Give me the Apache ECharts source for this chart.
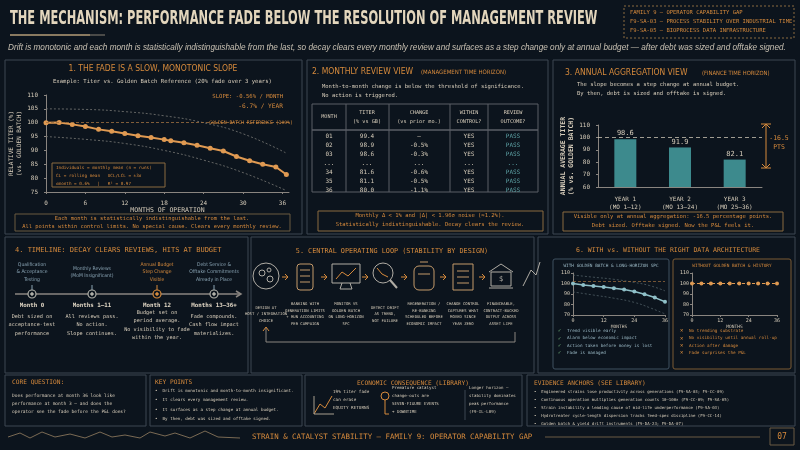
<!DOCTYPE html>
<html>
<head>
<meta charset="utf-8">
<script src="https://cdn.jsdelivr.net/npm/echarts@6/dist/echarts.min.js"></script>
<style>html,body{margin:0;padding:0;background:#0c141d}#main{width:800px;height:450px}</style>
</head>
<body>
<div id="main"></div>
<script>
// ---- data ----
const fadeMonths = [0, 2, 4, 6, 8, 10, 12, 14, 16, 18, 19, 21, 23, 25, 27, 29, 31, 33, 35, 36.6];
const fadeTiter = [100, 100.1, 99.4, 98.6, 97.6, 96.9, 96.1, 95.3, 94.7, 93.9, 93.5, 92.8, 91.9, 90.8, 89.8, 87.8, 86.3, 85.0, 84.0, 81.3];
const uclMonths = [0, 6, 12, 18, 24, 30, 36.6];
const uclValues = [105, 104.8, 104, 102.5, 100, 96, 89];
const lclValues = [95, 94, 92.5, 90, 86.5, 82, 75.5];
const yearLabels = ['YEAR 1\n(MO 1–12)', 'YEAR 2\n(MO 13–24)', 'YEAR 3\n(MO 25–36)'];
const yearAvg = [98.6, 91.9, 82.1];
const tableRows = [
  ['01', '99.4', '–', 'YES', 'PASS'],
  ['02', '98.9', '-0.5%', 'YES', 'PASS'],
  ['03', '98.6', '-0.3%', 'YES', 'PASS'],
  ['...', '...', '...', '...', '...'],
  ['34', '81.6', '-0.6%', 'YES', 'PASS'],
  ['35', '81.1', '-0.5%', 'YES', 'PASS'],
  ['36', '80.0', '-1.1%', 'YES', 'PASS']
];
const withMonths = [0, 4, 8, 12, 16, 20, 24, 28, 32, 36];
const withValues = [100, 98.6, 97.6, 96.6, 95.5, 94.3, 92.4, 89.8, 86.6, 82.6];
const withUcl = [108, 106, 104, 101, 98, 93];
const withLcl = [92, 89, 86, 82, 77, 71];
const withBandMonths = [0, 8, 16, 24, 30, 36];
const withoutMonths = [0, 4, 8, 12, 16, 20, 24, 28, 32, 36];
const withoutValues = [100, 100, 100, 100, 100, 100, 100, 100, 100, 100];

const OR = '#d68a3c', TX = '#d6ccba', DIM = '#a89f90', TEAL = '#5ea3a6', BR = '#3d4652', MONO = 'DejaVu Sans Mono', COND = 'DejaVu Sans Condensed';
const g = [];
function t(x, y, s, o) {
  o = o || {};
  const el = {type: 'text', x: x, y: y, z: 10, style: {text: s, fill: o.c || TX, font: (o.w || 'normal') + ' ' + (o.s || 6) + 'px ' + (o.f || MONO), align: o.a || 'left', verticalAlign: 'middle', lineHeight: o.lh || (o.s || 6) + 3}};
  if (o.sx) { el.scaleX = o.sx; }
  g.push(el);
}
function r(x, y, w, h, o) {
  o = o || {};
  g.push({type: 'rect', z: 1, shape: {x: x, y: y, width: w, height: h, r: o.r || 0}, style: {fill: o.fill || 'none', stroke: o.c || BR, lineWidth: o.lw || 1, lineDash: o.d || null}});
}
function l(pts, o) {
  o = o || {};
  g.push({type: 'polyline', z: 5, shape: {points: pts}, style: {stroke: o.c || DIM, lineWidth: o.lw || 1, lineDash: o.d || null, fill: 'none'}});
}
function circ(x, y, rr, o) {
  o = o || {};
  g.push({type: 'circle', z: 6, shape: {cx: x, cy: y, r: rr}, style: {fill: o.fill || 'none', stroke: o.c || DIM, lineWidth: o.lw || 1}});
}

// header
t(10, 19, 'THE MECHANISM: PERFORMANCE FADE BELOW THE RESOLUTION OF MANAGEMENT REVIEW', {s: 20, w: 'bold', f: COND, c: '#e3d6bd', sx: 0.635});
l([[10, 35], [90, 35]], {c: '#8a7a60', lw: 2});
l([[90, 35], [105, 35]], {c: '#4a4a48', lw: 2});
r(624, 6, 170, 32, {c: '#8a6a40', d: [2, 2]});
t(630, 13, 'FAMILY 9 — OPERATOR CAPABILITY GAP', {s: 5.5, c: OR});
t(630, 22, 'F9-SA-03 — PROCESS STABILITY OVER INDUSTRIAL TIME', {s: 5.5, c: OR});
t(630, 31, 'F9-SA-05 — BIOPROCESS DATA INFRASTRUCTURE', {s: 5.5, c: OR});
t(8, 48, 'Drift is monotonic and each month is statistically indistinguishable from the last, so decay clears every monthly review and surfaces as a step change only at annual budget — after debt was sized and offtake signed.', {s: 8.5, f: 'Liberation Sans', w: 'italic', c: '#c8c0b2', sx: 0.965});

// panel frames
[[5, 60, 297, 174], [307, 60, 241, 174], [553, 60, 242, 174], [5, 237, 243, 136], [251, 237, 283, 136], [538, 237, 257, 136], [5, 375, 141, 51], [150, 375, 152, 51], [305, 375, 217, 51], [527, 375, 268, 51]].forEach(p => r(p[0], p[1], p[2], p[3]));

// panel 1 text
t(153, 69, '1. THE FADE IS A SLOW, MONOTONIC SLOPE', {s: 8.5, f: COND, c: OR, a: 'center'});
t(53, 82, 'Example: Titer vs. Golden Batch Reference (20% fade over 3 years)', {s: 5.6});
t(283, 97, 'SLOPE: -0.56% / MONTH', {s: 5.6, c: OR, a: 'right'});
t(283, 106, '-6.7% / YEAR', {s: 6.2, c: OR, a: 'right'});
t(293, 123, 'GOLDEN BATCH REFERENCE (100%)', {s: 4.8, c: OR, a: 'right'});
r(52, 163, 113, 24, {c: '#8a6a40', fill: '#0c141d'});
t(56, 168, 'Individuals = monthly mean (n = runs)', {s: 4.3, c: OR});
t(56, 176, 'CL = rolling mean   UCL/LCL = ±3σ', {s: 4.3, c: OR});
t(56, 184, 'σmonth = 0.6%   |   R² = 0.97', {s: 4.3, c: OR});
r(15, 214, 275, 17, {c: '#6a5a40'});
t(152, 218.5, 'Each month is statistically indistinguishable from the last.', {s: 5.4, c: OR, a: 'center'});
t(152, 226.5, 'All points within control limits. No special cause. Clears every monthly review.', {s: 5.4, c: OR, a: 'center'});

// panel 2 table
t(312, 72, '2. MONTHLY REVIEW VIEW', {s: 8.5, f: COND, c: OR});
t(421, 72, '(MANAGEMENT TIME HORIZON)', {s: 6, f: COND, c: OR});
t(322, 87, 'Month-to-month change is below the threshold of significance.', {s: 5.5});
t(322, 96, 'No action is triggered.', {s: 5.5});
r(312, 104, 226, 26, {c: '#5a5f66'});
r(312, 130, 226, 62, {c: '#5a5f66'});
[346, 389, 450, 488].forEach(x => l([[x, 104], [x, 192]], {c: '#5a5f66'}));
['MONTH', 'TITER\n(% vs GB)', 'CHANGE\n(vs prior mo.)', 'WITHIN\nCONTROL?', 'REVIEW\nOUTCOME?'].forEach((h, i) => {
  const cx = [329, 367, 419, 469, 513][i];
  t(cx, 117, h, {s: 5.2, a: 'center', lh: 9});
});
tableRows.forEach((row, j) => {
  const y = 136 + j * 9.1;
  [329, 367, 419, 469, 513].forEach((cx, i) => t(cx, y, row[i], {s: 6, a: 'center', c: i === 4 ? TEAL : TX}));
});
r(318, 211, 225, 20, {c: '#8a6a40'});
t(430, 216, 'Monthly Δ < 1% and |Δ| < 1.96σ noise (≈1.2%).', {s: 5.5, c: OR, a: 'center'});
t(430, 225, 'Statistically indistinguishable. Decay clears the review.', {s: 5.5, c: OR, a: 'center'});

// panel 3 text
t(565, 73, '3. ANNUAL AGGREGATION VIEW', {s: 8.5, f: COND, c: OR});
t(702, 73, '(FINANCE TIME HORIZON)', {s: 5.8, f: COND, c: OR});
t(577, 85, 'The slope becomes a step change at annual budget.', {s: 5.5});
t(577, 94, 'By then, debt is sized and offtake is signed.', {s: 5.5});
l([[766, 124], [766, 168]], {c: OR});
l([[762, 128], [766, 124], [770, 128]], {c: OR});
l([[762, 164], [766, 168], [770, 164]], {c: OR});
l([[761, 124], [771, 124]], {c: OR});
l([[761, 168], [771, 168]], {c: OR});
t(779, 143, '-16.5\nPTS', {s: 6.5, c: OR, a: 'center', lh: 9});
r(563, 212, 220, 19, {c: '#8a6a40'});
t(673, 217, 'Visible only at annual aggregation: -16.5 percentage points.', {s: 5.5, c: OR, a: 'center'});
t(673, 226, 'Debt sized. Offtake signed. Now the P&L feels it.', {s: 5.5, c: OR, a: 'center'});

// panel 4 timeline
t(15, 250, '4. TIMELINE: DECAY CLEARS REVIEWS, HITS AT BUDGET', {s: 7, f: MONO, c: OR});
l([[15, 294], [240, 294]], {c: '#8a8580', lw: 1.5});
l([[236, 291], [241, 294], [236, 297]], {c: '#8a8580', lw: 1.5});
const tl = [
  [32, 'Qualification\n& Acceptance\nTesting', 'Month 0', 'Debt sized on\nacceptance-test\nperformance'],
  [92, 'Monthly Reviews\n(MoM Insignificant)', 'Months 1–11', 'All reviews pass.\nNo action.\nSlope continues.'],
  [157, 'Annual Budget\nStep Change\nVisible', 'Month 12', 'Budget set on\nperiod average.\nNo visibility to fade\nwithin the year.'],
  [214, 'Debt Service &\nOfftake Commitments\nAlready in Place', 'Months 13–36+', 'Fade compounds.\nCash flow impact\nmaterializes.']
];
tl.forEach((e, i) => {
  const c = i === 2 ? OR : '#8aa4b4';
  t(e[0], 272, e[1], {s: 5, a: 'center', c: c, f: COND, lh: 7.5});
  l([[e[0], 285], [e[0], 290]], {c: c});
  circ(e[0], 294, 4, {c: i === 2 ? OR : '#b0b0a8', fill: '#0c141d', lw: 1.2});
  circ(e[0], 294, 1.3, {c: i === 2 ? OR : '#b0b0a8', fill: i === 2 ? OR : '#b0b0a8'});
  t(e[0], 305, e[2], {s: 5.8, a: 'center', c: '#e0d6c4', w: 'bold'});
  t(e[0], 325, e[3], {s: 5.2, a: 'center', lh: 8.5});
});

// panel 5 loop
t(392, 251, '5. CENTRAL OPERATING LOOP (STABILITY BY DESIGN)', {s: 6.8, c: OR, a: 'center'});
const loopX = [266, 305, 346, 385, 424, 463, 501];
const loopLbl = ['DESIGN AT\nHOST / INTEGRATION\nCHOICE', 'BANKING WITH\nGENERATION LIMITS\n+ RUN ACCOUNTING\nPER CAMPAIGN', 'MONITOR VS\nGOLDEN BATCH\nON LONG-HORIZON\nSPC', 'DETECT DRIFT\nAS TREND,\nNOT FAILURE', 'REGENERATION /\nRE-BANKING\nSCHEDULED BEFORE\nECONOMIC IMPACT', 'CHANGE CONTROL\nCAPTURES WHAT\nMOVED SINCE\nYEAR ZERO', 'FINANCEABLE,\nCONTRACT-BACKED\nOUTPUT ACROSS\nASSET LIFE'];
loopX.forEach((x, i) => {
  const c = (i === 1 || i === 4 || i === 5) ? '#c49a6a' : '#b0aca4';
  if (i === 0) { circ(x, 276, 13, {c: c}); circ(x - 4, 273, 3, {c: c}); circ(x + 4, 279, 3, {c: c}); circ(x + 3, 270, 2, {c: c}); }
  if (i === 1) { r(x - 8, 264, 16, 26, {c: c, r: 3}); [270, 276, 282].forEach(y => l([[x - 5, y], [x + 5, y]], {c: c})); }
  if (i === 2) { r(x - 14, 264, 28, 19, {c: c}); l([[x - 10, 279], [x - 4, 272], [x + 2, 276], [x + 10, 268]], {c: OR}); l([[x - 4, 283], [x - 6, 289], [x + 6, 289], [x + 4, 283]], {c: c}); }
  if (i === 3) { circ(x - 2, 273, 10, {c: c}); l([[x + 5, 280], [x + 12, 288]], {c: c, lw: 2}); l([[x - 8, 268], [x - 3, 274], [x + 3, 277]], {c: OR}); }
  if (i === 4) { r(x - 10, 266, 20, 24, {c: c, r: 5}); l([[x - 4, 262], [x + 4, 262]], {c: c}); l([[x - 6, 274], [x + 6, 274]], {c: c}); }
  if (i === 5) { r(x - 10, 264, 20, 26, {c: c}); [271, 277, 283].forEach(y => l([[x - 6, y], [x + 6, y]], {c: c})); }
  if (i === 6) { r(x - 10, 272, 20, 14, {c: c}); l([[x - 12, 272], [x, 264], [x + 12, 272]], {c: c}); l([[x - 12, 288], [x + 12, 288]], {c: c}); t(x, 279, '$', {s: 7, a: 'center', c: c}); }
  if (i < 6) { l([[x + 16, 277], [x + 22, 277]], {c: OR}); l([[x + 19, 274], [x + 22, 277], [x + 19, 280]], {c: OR}); }
  t(x, 314, loopLbl[i], {s: 3.9, a: 'center', lh: 6.5, c: TX});
});
l([[523, 286], [531, 270], [536, 275], [540, 262]], {c: '#b0aca4'});
l([[515, 332], [515, 342], [266, 342], [266, 328]], {c: '#8a8580'});
l([[263, 331], [266, 327], [269, 331]], {c: OR});

// panel 6
t(668, 250, '6. WITH vs. WITHOUT THE RIGHT DATA ARCHITECTURE', {s: 6.5, c: OR, a: 'center'});
r(553, 259, 116, 110, {c: '#3f5060', r: 2});
r(673, 259, 118, 110, {c: '#7a5a34', r: 2});
t(611, 266, 'WITH GOLDEN BATCH & LONG-HORIZON SPC', {s: 4.4, c: '#9ab8c4', a: 'center'});
t(732, 266, 'WITHOUT GOLDEN BATCH & HISTORY', {s: 4.4, c: OR, a: 'center'});
['Trend visible early', 'Alarm below economic impact', 'Action taken before money is lost', 'Fade is managed'].forEach((s, i) => {
  t(558, 331 + i * 7.2, '✓', {s: 5.5, c: '#6fae7a'}); t(567, 331 + i * 7.2, s, {s: 4.3, c: '#9ab8c4'});
});
['No trending substrate', 'No visibility until annual roll-up', 'Action after damage', 'Fade surprises the P&L'].forEach((s, i) => {
  t(680, 331 + i * 7.2, '✕', {s: 5.5, c: OR}); t(689, 331 + i * 7.2, s, {s: 4.3, c: OR});
});

// bottom row
t(12, 382, 'CORE QUESTION:', {s: 6.2, c: OR});
t(12, 404, 'Does performance at month 36 look like\nperformance at month 3 — and does the\noperator see the fade before the P&L does?', {s: 4.5, lh: 8});
t(155, 382, 'KEY POINTS', {s: 6.2, c: OR});
t(155, 405, '•  Drift is monotonic and month-to-month insignificant.\n•  It clears every management review.\n•  It surfaces as a step change at annual budget.\n•  By then, debt was sized and offtake signed.', {s: 4.2, lh: 9.5});
t(413, 383, 'ECONOMIC CONSEQUENCE (LIBRARY)', {s: 6.2, c: OR, a: 'center'});
l([[314, 414], [320, 404], [325, 408], [332, 396]], {c: OR});
l([[314, 396], [314, 414], [334, 414]], {c: DIM});
t(333, 400, '19% titer fade\ncan erase\nEQUITY RETURNS', {s: 4.3, lh: 8});
circ(385, 396, 4, {c: OR});
l([[385, 400], [385, 414], [389, 414]], {c: OR});
t(392, 400, 'Premature catalyst\nchange-outs are\nSEVEN-FIGURE EVENTS\n+ DOWNTIME', {s: 4.1, lh: 8});
l([[465, 390], [465, 420]], {c: BR});
t(469, 400, 'Longer horizon —\nstability dominates\npeak performance\n(F9-IL-L09)', {s: 4.1, lh: 8});
t(534, 383, 'EVIDENCE ANCHORS (SEE LIBRARY)', {s: 6.2, c: OR});
t(534, 408, '•  Engineered strains lose productivity across generations (F9-SA-03; F9-CC-09)\n•  Continuous operation multiplies generation counts 10–100× (F9-CC-09; F9-SA-05)\n•  Strain instability a leading cause of mid-life underperformance (F9-SA-03)\n•  Hydrotreater cycle-length dispersion tracks feed-spec discipline (F9-CC-14)\n•  Golden batch & yield drift instruments (F9-DA-23; F9-DA-07)', {s: 4, lh: 8});

// footer
l([[8, 437], [20, 433], [30, 438], [42, 432], [55, 437], [70, 434], [85, 438], [100, 432], [112, 437], [125, 435], [140, 438], [150, 432], [165, 436], [175, 433], [190, 438], [205, 431], [218, 437], [240, 438]], {c: '#7a6a54'});
t(252, 437, 'STRAIN & CATALYST STABILITY — FAMILY 9: OPERATOR CAPABILITY GAP', {s: 7.4, c: OR});
l([[545, 437], [760, 437]], {c: '#6a5a44'});
r(770, 428, 24, 17, {c: '#6a5a44'});
t(782, 437, '07', {s: 8, c: OR, a: 'center'});

const axisTxt = {color: TX, fontFamily: MONO, fontSize: 6};
const axLine = {lineStyle: {color: '#8a8580'}};
function valAxis(min, max, iv, gi, name, extra) {
  return Object.assign({type: 'value', gridIndex: gi, min: min, max: max, interval: iv, axisLine: Object.assign({show: true}, axLine), axisTick: {show: true, length: 2, lineStyle: {color: '#8a8580'}}, splitLine: {show: false}, axisLabel: Object.assign({}, axisTxt), name: name, nameLocation: 'middle', nameTextStyle: {color: TX, fontFamily: MONO, fontSize: 6.5}}, extra || {});
}

const option = {
  backgroundColor: '#0c141d',
  animation: false,
  graphic: g,
  grid: [
    {left: 46, right: 511, top: 95, bottom: 258},
    {left: 598, right: 38, top: 125, bottom: 263},
    {left: 573, right: 135, top: 273, bottom: 135},
    {left: 692, right: 23, top: 273, bottom: 135}
  ],
  xAxis: [
    valAxis(0, 37, 6, 0, 'MONTHS OF OPERATION', {nameGap: 10, axisLabel: Object.assign({}, axisTxt, {customValues: [0, 6, 12, 18, 24, 30, 36]}), axisTick: {show: true, length: 2, customValues: [0, 6, 12, 18, 24, 30, 36]}}),
    {type: 'category', gridIndex: 1, data: yearLabels, axisLine: axLine, axisTick: {show: false}, axisLabel: Object.assign({}, axisTxt, {fontSize: 6, lineHeight: 8})},
    valAxis(0, 36, 12, 2, 'MONTHS', {nameGap: 8, nameTextStyle: {color: TX, fontFamily: MONO, fontSize: 4.5}, axisLabel: Object.assign({}, axisTxt, {fontSize: 5, margin: 3})}),
    valAxis(0, 36, 12, 3, 'MONTHS', {nameGap: 8, nameTextStyle: {color: TX, fontFamily: MONO, fontSize: 4.5}, axisLabel: Object.assign({}, axisTxt, {fontSize: 5, margin: 3})})
  ],
  yAxis: [
    valAxis(75, 110, 5, 0, 'RELATIVE TITER (%)\n(vs. GOLDEN BATCH)', {nameGap: 18, nameTextStyle: {color: TX, fontFamily: MONO, fontSize: 6, lineHeight: 8}}),
    valAxis(60, 110, 10, 1, 'ANNUAL AVERAGE TITER\n(% vs. GOLDEN BATCH)', {nameGap: 18, nameTextStyle: {color: TX, fontFamily: MONO, fontSize: 6.5, fontWeight: 'bold', lineHeight: 8}}),
    valAxis(70, 110, 10, 2, '', {axisLabel: Object.assign({}, axisTxt, {fontSize: 5, margin: 3})}),
    valAxis(70, 110, 10, 3, '', {axisLabel: Object.assign({}, axisTxt, {fontSize: 5, margin: 3})})
  ],
  series: [
    {type: 'line', xAxisIndex: 0, yAxisIndex: 0, data: uclMonths.map((m, i) => [m, uclValues[i]]), smooth: true, symbol: 'none', lineStyle: {color: '#7a7a76', width: 0.8, type: [2, 2]}},
    {type: 'line', xAxisIndex: 0, yAxisIndex: 0, data: uclMonths.map((m, i) => [m, lclValues[i]]), smooth: true, symbol: 'none', lineStyle: {color: '#7a7a76', width: 0.8, type: [2, 2]}},
    {type: 'line', xAxisIndex: 0, yAxisIndex: 0, data: fadeMonths.map((m, i) => [m, fadeTiter[i]]), symbol: 'circle', symbolSize: 5, itemStyle: {color: '#e09a52'}, lineStyle: {color: '#e09a52', width: 2},
      markLine: {silent: true, symbol: 'none', label: {show: false}, lineStyle: {color: '#a07040', type: [3, 2], width: 0.8}, data: [{yAxis: 100}]}},
    {type: 'bar', xAxisIndex: 1, yAxisIndex: 1, data: yearAvg, barWidth: 22, itemStyle: {color: '#3d8a8d'},
      label: {show: true, position: 'top', distance: 2, color: TX, fontFamily: MONO, fontSize: 7},
      markLine: {silent: true, symbol: 'none', label: {show: false}, lineStyle: {color: '#c8c0b0', type: [4, 3], width: 0.8}, data: [{yAxis: 100}]}},
    {type: 'line', xAxisIndex: 2, yAxisIndex: 2, data: withBandMonths.map((m, i) => [m, withUcl[i]]), smooth: true, symbol: 'none', lineStyle: {color: '#5a6a70', width: 0.7, type: [2, 2]}},
    {type: 'line', xAxisIndex: 2, yAxisIndex: 2, data: withBandMonths.map((m, i) => [m, withLcl[i]]), smooth: true, symbol: 'none', lineStyle: {color: '#5a6a70', width: 0.7, type: [2, 2]}},
    {type: 'line', xAxisIndex: 2, yAxisIndex: 2, data: withMonths.map((m, i) => [m, withValues[i]]), symbol: 'circle', symbolSize: 4, itemStyle: {color: '#8fc0c8'}, lineStyle: {color: '#8fc0c8', width: 1.5},
      markLine: {silent: true, symbol: 'none', label: {show: false}, lineStyle: {color: '#a07040', type: [3, 2], width: 0.7}, data: [{yAxis: 102}]}},
    {type: 'line', xAxisIndex: 3, yAxisIndex: 3, data: withoutMonths.map((m, i) => [m, withoutValues[i]]), symbol: 'circle', symbolSize: 4, itemStyle: {color: '#e09a52'}, lineStyle: {color: '#e09a52', width: 1, type: [3, 2]}}
  ]
};
echarts.init(document.getElementById('main')).setOption(option);
</script>
</body>
</html>
